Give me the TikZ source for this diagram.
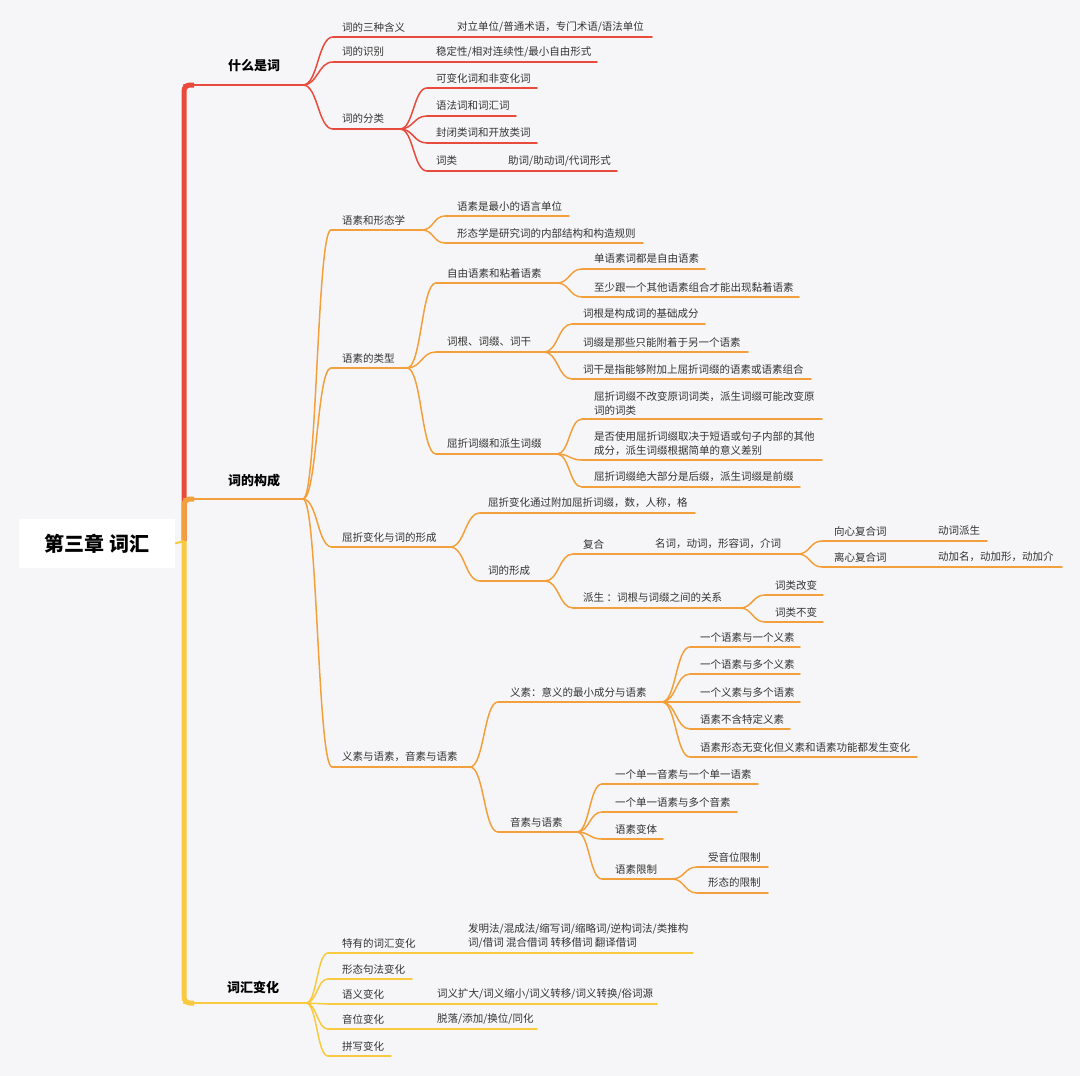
\documentclass[tikz,border=0pt]{standalone}
\usepackage{fontspec}
\setmainfont{Noto Sans CJK SC}
\usetikzlibrary{calc}
\definecolor{bg}{HTML}{F6F6F8}
\definecolor{cred}{HTML}{E84B3C}
\definecolor{corg}{HTML}{F3A03C}
\definecolor{cyel}{HTML}{F9C93F}
\definecolor{txt}{HTML}{333333}
% #1 text offset, #2 name, #3 line start x, #4 line y, #5 line end x, #6 text x, #7 text
\newcommand\topicline[7][10]{%
  \coordinate (#2-s) at (#3,#4);
  \coordinate (#2-e) at (#5,#4);
  \draw[ln] (#2-s) -- (#2-e);
  \node[lbl] (#2) at (#6,#4-#1) {#7};}
% value text on the same line: #1 offset, #2 name, #3 x, #4 line y, #5 text
\newcommand\subtext[5][10]{%
  \node[lbl] (#2v) at (#3,#4-#1) {#5};}
\newcommand\conn[2]{%
  \draw[ln] let \p1=(#1-e), \p2=(#2-s) in
    (\p1) .. controls ({0.5*\x1+0.5*\x2},\y1) and ({0.5*\x1+0.5*\x2},\y2) .. (\p2);}
\begin{document}
\begin{tikzpicture}[x=1pt,y=-1pt,
  lbl/.style={anchor=west, inner sep=0pt, align=left, text=txt,
    font=\fontsize{10.5}{14}\selectfont},
  lvlone/.style={anchor=west, inner sep=0pt, text=black,
    font=\bfseries\fontsize{13}{16}\selectfont},
  trunk/.style={line width=5pt, rounded corners=6pt},
  lvlline/.style={line width=2.5pt},
  line cap=round]
\fill[bg] (0,0) rectangle (1080,1076);
\useasboundingbox (0,0) rectangle (1080,1076);

% root
\node[fill=white, minimum width=156pt, minimum height=49pt, inner sep=0pt,
  font=\bfseries\fontsize{20}{24}\selectfont, text=black] (root) at (97,543.5) {第三章 词汇};
\coordinate (hub) at (184,541);
\coordinate (A-s) at (184,85);  \coordinate (A-e) at (303,85);
\coordinate (B-s) at (184,499); \coordinate (B-e) at (303,499);
\coordinate (C-s) at (184,1003); \coordinate (C-e) at (306,1003);

% trunk
\draw[cred, trunk, line cap=butt] (hub) -- (A-s) -- ++(10,0);
\draw[cred, lvlline] (A-s) -- (A-e);
\draw[corg, trunk, line cap=butt] (hub) -- (B-s) -- ++(10,0);
\draw[corg, lvlline] (B-s) -- (B-e);
\draw[cyel, trunk, line cap=butt] (hub) -- (C-s) -- ++(10,0);
\draw[cyel, lvlline] (C-s) -- (C-e);
\draw[cyel, line width=2pt, line cap=butt] (root.east) -- (hub);

\node[lvlone] (A) at (228,66) {什么是词};
\node[lvlone] (B) at (228,481) {词的构成};
\node[lvlone] (C) at (227,987) {词汇变化};

% ---------- section 1 ----------
\begin{scope}[ln/.style={draw=cred, line width=1.5pt}]
\topicline{a1}{333}{37}{652}{342}{词的三种含义}
\subtext{a1}{457}{37}{对立单位/普通术语，专门术语/语法单位}
\topicline{a2}{333}{62}{597}{342}{词的识别}
\subtext{a2}{436}{62}{稳定性/相对连续性/最小自由形式}
\topicline{a3}{333}{129}{400}{342}{词的分类}
\topicline{a31}{427}{88}{537}{436}{可变化词和非变化词}
\topicline{a32}{427}{116}{516}{436}{语法词和词汇词}
\topicline{a33}{427}{143}{537}{436}{封闭类词和开放类词}
\topicline{a34}{427}{171}{617}{436}{词类}
\subtext{a34}{508}{171}{助词/助动词/代词形式}
\conn{A}{a1}\conn{A}{a2}\conn{A}{a3}
\conn{a3}{a31}\conn{a3}{a32}\conn{a3}{a33}\conn{a3}{a34}
\end{scope}

% ---------- section 2 ----------
\begin{scope}[ln/.style={draw=corg, line width=1.5pt}]
\topicline{b1}{331}{230}{422}{342}{语素和形态学}
\topicline{b11}{445}{216}{569}{457}{语素是最小的语言单位}
\topicline{b12}{445}{243}{643}{457}{形态学是研究词的内部结构和构造规则}
\topicline{b2}{331}{368}{407}{342}{语素的类型}
\topicline{b21}{436}{283}{557}{447}{自由语素和粘着语素}
\topicline{b211}{582}{269}{705}{594}{单语素词都是自由语素}
\topicline{b212}{582}{297}{799}{594}{至少跟一个其他语素组合才能出现黏着语素}
\topicline{b22}{436}{352}{544}{447}{词根、词缀、词干}
\topicline{b221}{572}{324}{705}{583}{词根是构成词的基础成分}
\topicline{b222}{572}{352}{748}{583}{词缀是那些只能附着于另一个语素}
\topicline{b223}{572}{379}{811}{583}{词干是指能够附加上屈折词缀的语素或语素组合}
\topicline{b23}{436}{454}{557}{447}{屈折词缀和派生词缀}
\topicline[16]{b231}{582}{419}{822}{594}{屈折词缀不改变原词词类，派生词缀可能改变原\\词的词类}
\topicline[16]{b232}{582}{460}{822}{594}{是否使用屈折词缀取决于短语或句子内部的其他\\成分，派生词缀根据简单的意义差别}
\topicline{b233}{582}{487}{800}{594}{屈折词缀绝大部分是后缀，派生词缀是前缀}
\topicline{c}{332}{547}{450}{342}{屈折变化与词的形成}
\topicline{c1}{480}{513}{695}{488}{屈折变化通过附加屈折词缀，数，人称，格}
\topicline{c2}{480}{581}{545}{488}{词的形成}
\topicline{c21}{573}{554}{798}{583}{复合}
\subtext{c21}{655}{554}{名词，动词，形容词，介词}
\topicline{c211}{822}{541}{987}{834}{向心复合词}
\subtext{c211}{938}{541}{动词派生}
\topicline{c212}{822}{567}{1062}{834}{离心复合词}
\subtext{c212}{938}{567}{动加名，动加形，动加介}
\topicline{c22}{573}{608}{740}{583}{派生 ：词根与词缀之间的关系}
\topicline{c221}{765}{595}{823}{775}{词类改变}
\topicline{c222}{765}{622}{823}{775}{词类不变}
\topicline{d}{332}{767}{470}{342}{义素与语素，音素与语素}
\topicline{d1}{498}{702}{662}{510}{义素：意义的最小成分与语素}
\topicline{d11}{690}{647}{800}{700}{一个语素与一个义素}
\topicline{d12}{690}{674}{800}{700}{一个语素与多个义素}
\topicline{d13}{690}{702}{800}{700}{一个义素与多个语素}
\topicline{d14}{690}{729}{790}{700}{语素不含特定义素}
\topicline{d15}{690}{757}{917}{700}{语素形态无变化但义素和语素功能都发生变化}
\topicline{d2}{498}{832}{577}{510}{音素与语素}
\topicline{d21}{602}{784}{758}{615}{一个单一音素与一个单一语素}
\topicline{d22}{602}{812}{737}{615}{一个单一语素与多个音素}
\topicline{d23}{602}{839}{663}{615}{语素变体}
\topicline{d24}{602}{879}{672}{615}{语素限制}
\topicline{d241}{697}{867}{768}{708}{受音位限制}
\topicline{d242}{697}{893}{768}{708}{形态的限制}
\conn{B}{b1}\conn{B}{b2}\conn{B}{c}\conn{B}{d}
\conn{b1}{b11}\conn{b1}{b12}
\conn{b2}{b21}\conn{b2}{b22}\conn{b2}{b23}
\conn{b21}{b211}\conn{b21}{b212}
\conn{b22}{b221}\conn{b22}{b222}\conn{b22}{b223}
\conn{b23}{b231}\conn{b23}{b232}\conn{b23}{b233}
\conn{c}{c1}\conn{c}{c2}
\conn{c2}{c21}\conn{c2}{c22}
\conn{c21}{c211}\conn{c21}{c212}
\conn{c22}{c221}\conn{c22}{c222}
\conn{d}{d1}\conn{d}{d2}
\conn{d1}{d11}\conn{d1}{d12}\conn{d1}{d13}\conn{d1}{d14}\conn{d1}{d15}
\conn{d2}{d21}\conn{d2}{d22}\conn{d2}{d23}\conn{d2}{d24}
\conn{d24}{d241}\conn{d24}{d242}
\end{scope}

% ---------- section 3 ----------
\begin{scope}[ln/.style={draw=cyel, line width=1.5pt}]
\topicline{e1}{328}{953}{693}{342}{特有的词汇变化}
\subtext[17]{e1}{468}{953}{发明法/混成法/缩写词/缩略词/逆构词法/类推构\\词/借词 混合借词 转移借词 翻译借词}
\topicline{e2}{328}{979}{412}{342}{形态句法变化}
\topicline{e3}{328}{1004}{657}{342}{语义变化}
\subtext{e3}{437}{1004}{词义扩大/词义缩小/词义转移/词义转换/俗词源}
\topicline{e4}{328}{1029}{537}{342}{音位变化}
\subtext{e4}{437}{1029}{脱落/添加/换位/同化}
\topicline{e5}{328}{1056}{391}{342}{拼写变化}
\conn{C}{e1}\conn{C}{e2}\conn{C}{e3}\conn{C}{e4}\conn{C}{e5}
\end{scope}
\end{tikzpicture}
\end{document}
